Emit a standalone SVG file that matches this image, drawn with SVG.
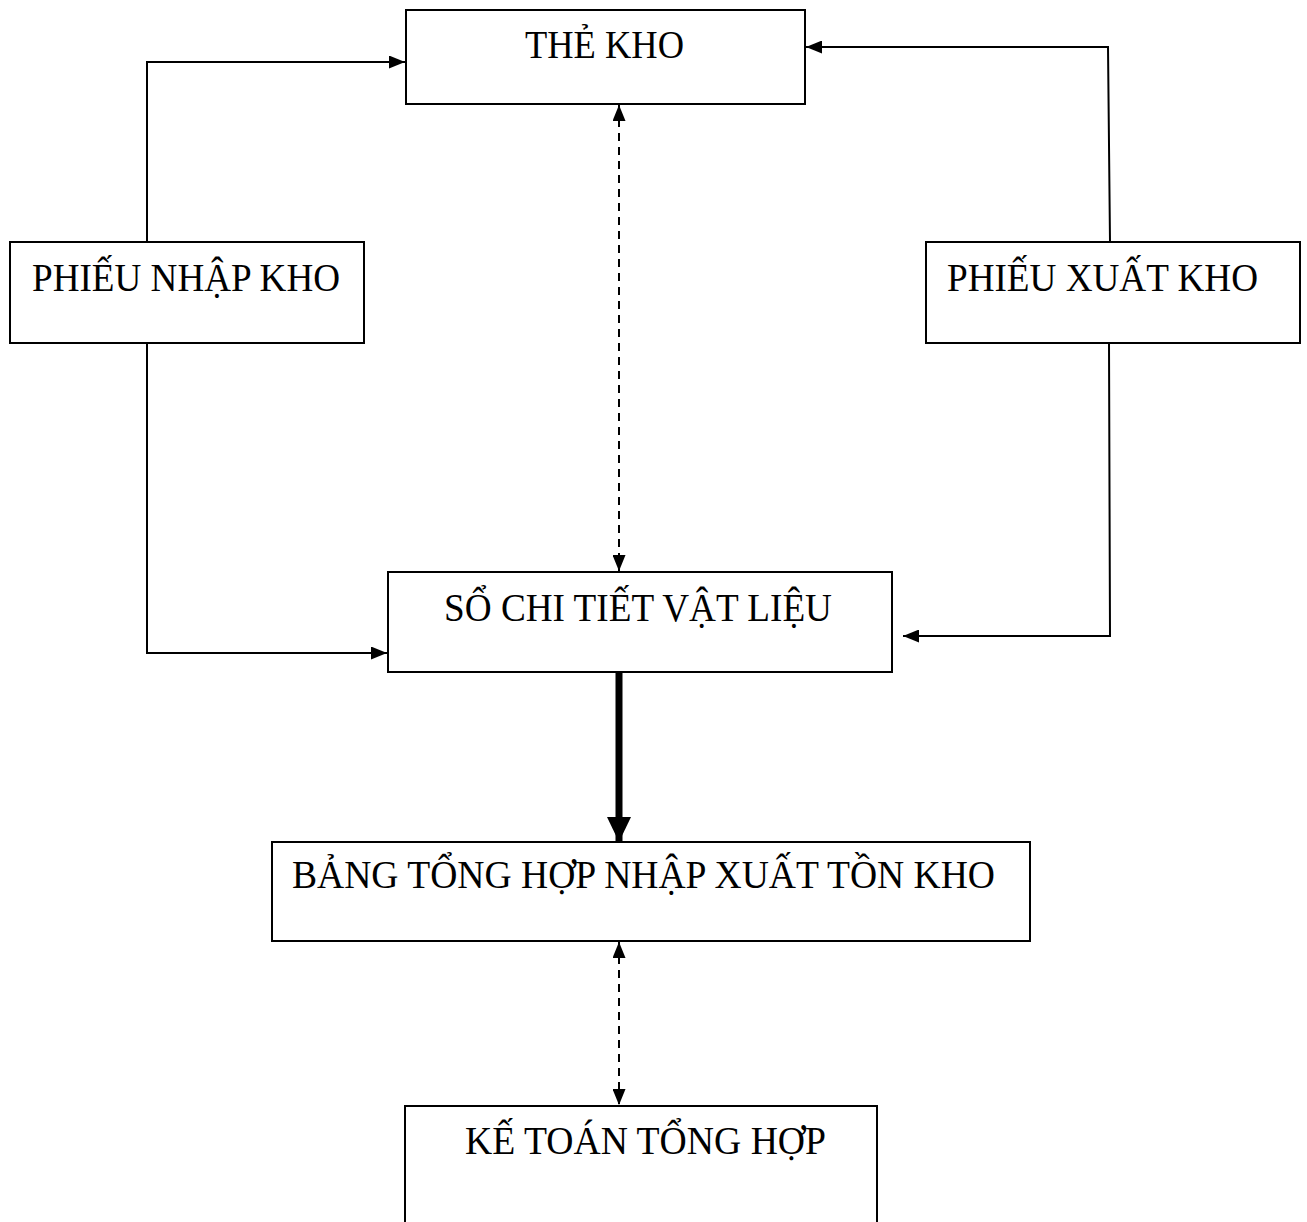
<svg xmlns="http://www.w3.org/2000/svg" width="1307" height="1222" viewBox="0 0 1307 1222">
  <style>
    .box { fill: #fff; stroke: #000; stroke-width: 2; }
    .lbl { font-family: "Liberation Serif", "Times New Roman", serif; font-size: 39px; fill: #000; }
    .ln { fill: none; stroke: #000; stroke-width: 2; }
    .dash { fill: none; stroke: #000; stroke-width: 2; stroke-dasharray: 8 6; }
    .thick { fill: none; stroke: #000; stroke-width: 7; }
  </style>
  <defs>
    <marker id="ah" viewBox="0 0 16 13" refX="16" refY="6.5" markerWidth="16" markerHeight="13" markerUnits="userSpaceOnUse" orient="auto-start-reverse">
      <path d="M0,0 L16,6.5 L0,13 Z" fill="#000"/>
    </marker>
    <marker id="ahBig" viewBox="0 0 25 24" refX="25" refY="12" markerWidth="25" markerHeight="24" markerUnits="userSpaceOnUse" orient="auto">
      <path d="M0,0 L25,12 L0,24 Z" fill="#000"/>
    </marker>
  </defs>

  <g id="connectors">
    <!-- Phiếu nhập kho to thẻ kho and sổ chi tiết -->
    <polyline class="ln" points="147,242 147,62 405,62" marker-end="url(#ah)"/>
    <polyline class="ln" points="147,343 147,653 387,653" marker-end="url(#ah)"/>
    <!-- Phiếu xuất kho to thẻ kho and sổ chi tiết -->
    <polyline class="ln" points="1110,242 1108,47 806,47" marker-end="url(#ah)"/>
    <polyline class="ln" points="1109,343 1110,636 903,636" marker-end="url(#ah)"/>
    <!-- Reconciliation between thẻ kho and sổ chi tiết -->
    <line class="dash" x1="619" y1="105" x2="619" y2="571" marker-start="url(#ah)" marker-end="url(#ah)"/>
    <!-- Sổ chi tiết to bảng tổng hợp -->
    <line class="thick" x1="619" y1="673" x2="619" y2="842" marker-end="url(#ahBig)"/>
    <!-- Bảng tổng hợp and kế toán tổng hợp -->
    <line class="dash" x1="619" y1="942" x2="619" y2="1105" marker-start="url(#ah)" marker-end="url(#ah)"/>
  </g>

  <g id="the-kho">
    <rect class="box" x="406" y="10" width="399" height="94"/>
    <text class="lbl" x="525" y="58" textLength="159" lengthAdjust="spacingAndGlyphs">THẺ KHO</text>
  </g>
  <g id="phieu-nhap-kho">
    <rect class="box" x="10" y="242" width="354" height="101"/>
    <text class="lbl" x="32" y="291" textLength="308" lengthAdjust="spacingAndGlyphs">PHIẾU NHẬP KHO</text>
  </g>
  <g id="phieu-xuat-kho">
    <rect class="box" x="926" y="242" width="374" height="101"/>
    <text class="lbl" x="947" y="291" textLength="311" lengthAdjust="spacingAndGlyphs">PHIẾU XUẤT KHO</text>
  </g>
  <g id="so-chi-tiet">
    <rect class="box" x="388" y="572" width="504" height="100"/>
    <text class="lbl" x="444" y="621" textLength="388" lengthAdjust="spacingAndGlyphs">SỔ CHI TIẾT VẬT LIỆU</text>
  </g>
  <g id="bang-tong-hop">
    <rect class="box" x="272" y="842" width="758" height="99"/>
    <text class="lbl" x="292" y="888" textLength="703" lengthAdjust="spacingAndGlyphs">BẢNG TỔNG HỢP NHẬP XUẤT TỒN KHO</text>
  </g>
  <g id="ke-toan-tong-hop">
    <polyline class="box" points="405,1230 405,1106 877,1106 877,1230"/>
    <text class="lbl" x="465" y="1154" textLength="361" lengthAdjust="spacingAndGlyphs">KẾ TOÁN TỔNG HỢP</text>
  </g>
</svg>
